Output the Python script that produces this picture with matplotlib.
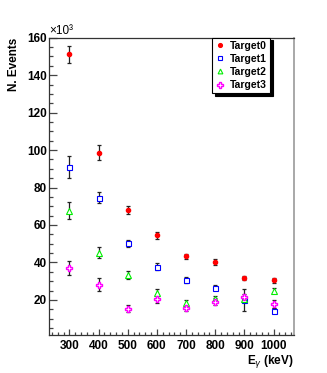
import matplotlib
matplotlib.use("Agg")
from matplotlib import pyplot as plt

# Gamma energies (keV) and event counts (in units of 10^3)
energies = [300, 400, 500, 600, 700, 800, 900, 1000]

target0 = [151.1, 98.7, 67.9, 54.4, 43.2, 40.4, 31.7, 30.4]
target0_err = [4.5, 4.0, 2.0, 1.7, 1.5, 1.5, 1.0, 1.5]

target1 = [90.8, 74.6, 50.2, 37.8, 30.8, 26.6, 20.0, 14.3]
target1_err = [5.8, 3.0, 2.0, 1.7, 1.5, 1.3, 6.0, 1.2]

target2 = [67.6, 45.2, 33.2, 23.9, 18.4, 20.5, 20.4, 25.0]
target2_err = [4.5, 3.0, 2.0, 1.7, 1.5, 1.5, 1.5, 1.5]

target3 = [36.9, 28.2, 15.4, 20.4, 15.6, 19.1, 21.6, 17.9]
target3_err = [3.8, 3.5, 1.8, 2.0, 1.5, 1.8, 1.5, 2.0]

labels = ["Target0", "Target1", "Target2", "Target3"]

plt.rcParams['font.family'] = ['Liberation Sans', 'DejaVu Sans']

fig = plt.figure(figsize=(3.27, 3.73), dpi=100)
ax = fig.add_axes([0.150, 0.102, 0.749, 0.797])

series = [
    (target0, target0_err, dict(marker='o', color='red', mfc='red', ms=3.0)),
    (target1, target1_err, dict(marker='s', color='blue', mfc='white', ms=3.6, mew=0.8)),
    (target2, target2_err, dict(marker='^', color='#00ee00', mfc='white', ms=3.8, mew=0.8)),
    (target3, target3_err, dict(marker='P', color='#ff00ff', mfc='white', ms=4.3, mew=1.0)),
]

for (vals, errs, style), label in zip(series, labels):
    ax.errorbar(energies, vals, yerr=errs, fmt='none', ecolor='#222222',
                elinewidth=0.9, capsize=1.3, capthick=0.9, zorder=2)
    ax.plot(energies, vals, linestyle='none', label=label, zorder=3, **style)

ax.set_xlim(230, 1070)
ax.set_ylim(1.3, 160)

ax.set_xticks(range(300, 1001, 100))
ax.set_xticks(range(240, 1070, 20), minor=True)
ax.set_yticks(range(20, 161, 20))
ax.set_yticks(range(5, 161, 5), minor=True)

ax.tick_params(which='both', direction='in', top=False, right=False,
               color='#444444', width=0.9)
ax.tick_params(axis='y', which='major', length=5.5, pad=1.5)
ax.tick_params(axis='y', which='minor', length=3)
ax.tick_params(axis='x', which='major', length=4.5, pad=3.5)
ax.tick_params(axis='x', which='minor', length=2.3)
for lbl in ax.get_xticklabels() + ax.get_yticklabels():
    lbl.set_fontweight('bold')
    lbl.set_fontsize(8.5)

for side in ['left', 'bottom', 'top']:
    ax.spines[side].set_color('#333333')
    ax.spines[side].set_linewidth(0.9)
ax.spines['right'].set_color('#999999')
ax.spines['right'].set_linewidth(1.2)

ax.set_ylabel("N. Events", loc='top', fontsize=8.5, fontweight='bold', labelpad=5)
ax.set_xlabel(r"E$_{\gamma}$ (keV)", loc='right', fontsize=8.5, fontweight='bold', labelpad=1)
ax.text(0.0, 1.003, "×10³", transform=ax.transAxes, fontsize=8.5, ha='left', va='bottom')

leg = ax.legend(loc='upper left', bbox_to_anchor=(0.667, 1.0), frameon=True,
                fancybox=False, shadow={'color': 'black', 'alpha': 1},
                prop={'weight': 'bold', 'size': 7.5},
                handlelength=0.8, handletextpad=0.6, labelspacing=0.3,
                borderpad=0.3, borderaxespad=0, numpoints=1, markerscale=0.9)
leg.get_frame().set_edgecolor('black')
leg.get_frame().set_linewidth(0.8)

fig.savefig("out.png", dpi=100)
